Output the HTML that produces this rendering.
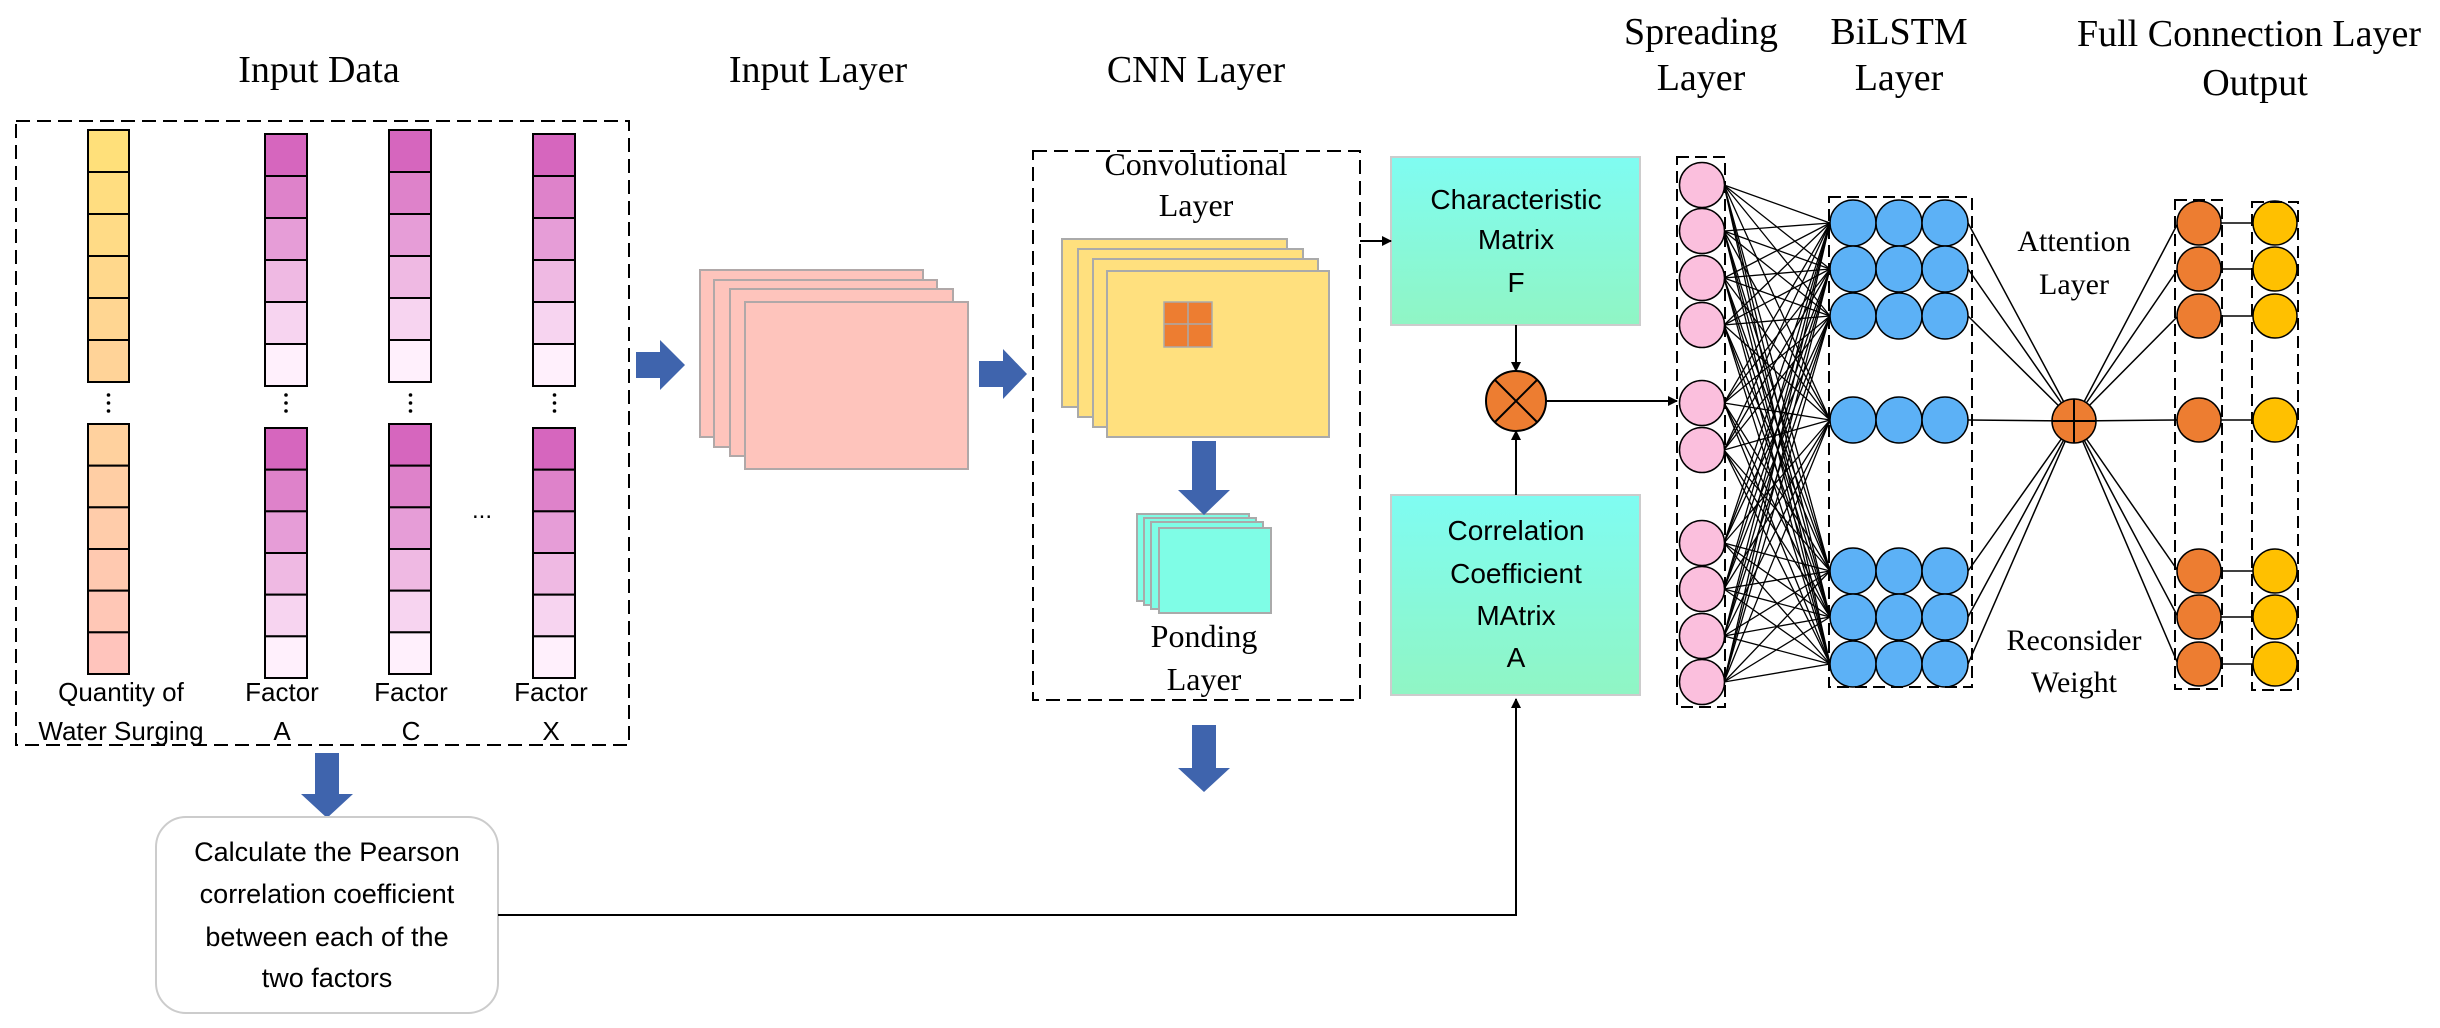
<!DOCTYPE html>
<html><head><meta charset="utf-8"><style>
html,body{margin:0;padding:0;background:#fff;}
svg{display:block;}
.t{font-family:"Liberation Serif",serif;fill:#000;}
.s{font-family:"Liberation Sans",sans-serif;fill:#000;}
</style></head><body>
<svg id="g" width="2440" height="1028" viewBox="0 0 2440 1028" xmlns="http://www.w3.org/2000/svg">
<defs>
<linearGradient id="cy" x1="0" y1="0" x2="0" y2="1"><stop offset="0" stop-color="#7ffcf2"/><stop offset="1" stop-color="#90f5c4"/></linearGradient>
<marker id="ah" markerWidth="10" markerHeight="10" refX="9" refY="5" orient="auto" markerUnits="userSpaceOnUse"><path d="M0,0 L10,5 L0,10 z" fill="#000"/></marker>
</defs>
<g id="dyn"></g>
<!-- headers -->
<g class="t" font-size="38" text-anchor="middle">
<text x="319" y="82">Input Data</text>
<text x="818" y="82">Input Layer</text>
<text x="1196" y="82">CNN Layer</text>
<text x="1701" y="44">Spreading</text>
<text x="1701" y="90">Layer</text>
<text x="1899" y="44">BiLSTM</text>
<text x="1899" y="90">Layer</text>
<text x="2249" y="46">Full Connection Layer</text>
<text x="2255" y="95">Output</text>
</g>
<!-- input data box -->
<rect x="16" y="121" width="613" height="624" fill="none" stroke="#000" stroke-width="2" stroke-dasharray="14,7"/>
<g class="s" font-size="26" text-anchor="middle">
<text x="121" y="701">Quantity of</text>
<text x="121" y="740">Water Surging</text>
<text x="282" y="701">Factor</text><text x="282" y="740">A</text>
<text x="411" y="701">Factor</text><text x="411" y="740">C</text>
<text x="551" y="701">Factor</text><text x="551" y="740">X</text>
<text x="482" y="518" font-size="24">...</text>
</g>
<!-- input layer -->
<g stroke="#b0a8a8" stroke-width="2" fill="#fec4bc">
<rect x="700" y="270" width="223" height="167"/>
<rect x="714" y="280" width="223" height="167"/>
<rect x="730" y="289" width="223" height="167"/>
<rect x="745" y="302" width="223" height="167"/>
</g>
<!-- CNN box -->
<rect x="1033" y="151" width="327" height="549" fill="none" stroke="#000" stroke-width="2" stroke-dasharray="14,7"/>
<rect x="1080" y="152" width="230" height="6" fill="#fff"/>
<g class="t" font-size="32" text-anchor="middle">
<text x="1196" y="175">Convolutional</text>
<text x="1196" y="216">Layer</text>
<text x="1204" y="647">Ponding</text>
<text x="1204" y="690">Layer</text>
</g>
<g stroke="#aaa" stroke-width="2" fill="#ffe07e">
<rect x="1062" y="239" width="225" height="168"/>
<rect x="1078" y="249" width="225" height="168"/>
<rect x="1093" y="259" width="225" height="168"/>
<rect x="1107" y="271" width="222" height="166"/>
</g>
<g stroke="#aaa" stroke-width="1.5" fill="#ed7d31">
<rect x="1164" y="302" width="48" height="45"/>
<line x1="1188" y1="302" x2="1188" y2="347"/><line x1="1164" y1="324" x2="1212" y2="324"/>
</g>
<g stroke="#aaa" stroke-width="2" fill="#7ffde6">
<rect x="1137" y="514" width="112" height="87"/>
<rect x="1144" y="518" width="112" height="87"/>
<rect x="1151" y="522" width="112" height="87"/>
<rect x="1159" y="528" width="112" height="85"/>
</g>
<!-- blue arrows -->
<g fill="#3f64ad">
<path d="M636,352 L660,352 L660,340 L685,365 L660,390 L660,378 L636,378 z"/>
<path d="M979,361 L1003,361 L1003,349 L1027,374 L1003,399 L1003,387 L979,387 z"/>
<path d="M1192,441 L1216,441 L1216,490 L1230,490 L1204,515 L1178,490 L1192,490 z"/>
<path d="M1192,725 L1216,725 L1216,768 L1230,768 L1204,792 L1178,768 L1192,768 z"/>
<path d="M315,753 L339,753 L339,794 L353,794 L327,818 L301,794 L315,794 z"/>
</g>
<!-- pearson box -->
<rect x="156" y="817" width="342" height="196" rx="30" fill="#fff" stroke="#ccc" stroke-width="2"/>
<g class="s" font-size="27" text-anchor="middle">
<text x="327" y="861">Calculate the Pearson</text>
<text x="327" y="903">correlation coefficient</text>
<text x="327" y="946">between each of the</text>
<text x="327" y="987">two factors</text>
</g>
<polyline points="498,915 1516,915 1516,699" fill="none" stroke="#000" stroke-width="2" marker-end="url(#ah)"/>
<!-- matrices -->
<rect x="1391" y="157" width="249" height="168" fill="url(#cy)" stroke="#ccc" stroke-width="2"/>
<rect x="1391" y="495" width="249" height="200" fill="url(#cy)" stroke="#ccc" stroke-width="2"/>
<g class="s" font-size="28" text-anchor="middle">
<text x="1516" y="209">Characteristic</text>
<text x="1516" y="249">Matrix</text>
<text x="1516" y="292">F</text>
<text x="1516" y="540">Correlation</text>
<text x="1516" y="583">Coefficient</text>
<text x="1516" y="625">MAtrix</text>
<text x="1516" y="667">A</text>
</g>
<g stroke="#000" stroke-width="2" fill="none">
<line x1="1360" y1="241" x2="1391" y2="241" marker-end="url(#ah)"/>
<line x1="1516" y1="325" x2="1516" y2="371" marker-end="url(#ah)"/>
<line x1="1516" y1="495" x2="1516" y2="431" marker-end="url(#ah)"/>
<line x1="1546" y1="401" x2="1677" y2="401" marker-end="url(#ah)"/>
</g>
<circle cx="1516" cy="401" r="30" fill="#ed7d31" stroke="#000" stroke-width="2"/>
<g stroke="#000" stroke-width="2"><line x1="1495" y1="380" x2="1537" y2="422"/><line x1="1537" y1="380" x2="1495" y2="422"/></g>
<!-- dashed boxes right -->
<g fill="none" stroke="#000" stroke-width="2" stroke-dasharray="12,6">
<rect x="1677" y="157" width="48" height="550"/>
<rect x="1829" y="197" width="143" height="490"/>
<rect x="2175" y="200" width="47" height="489"/>
<rect x="2252" y="202" width="46" height="488"/>
</g>
<g class="t" font-size="30" text-anchor="middle">
<text x="2074" y="251">Attention</text>
<text x="2074" y="294">Layer</text>
<text x="2074" y="650">Reconsider</text>
<text x="2074" y="692">Weight</text>
</g>
</svg>
<script>
(function(){
var NS="http://www.w3.org/2000/svg",g=document.getElementById('dyn'),top=document.getElementById('g');
function el(n,a,p){var e=document.createElementNS(NS,n);for(var k in a)e.setAttribute(k,a[k]);(p||g).appendChild(e);return e;}
function lerp(a,b,t){return Math.round(a+(b-a)*t);}
function col(c1,c2,t){return 'rgb('+lerp(c1[0],c2[0],t)+','+lerp(c1[1],c2[1],t)+','+lerp(c1[2],c2[2],t)+')';}
function column(x,w,y0,y1,c1,c2,tstart,tend){var h=(y1-y0)/6;for(var i=0;i<6;i++){var t=tstart+(tend-tstart)*i/5;el('rect',{x:x,y:y0+i*h,width:w,height:h,fill:col(c1,c2,t),stroke:'#000','stroke-width':2});}}
var Y1=[255,224,122],Y2=[255,196,188],M1=[214,102,190],M2=[255,240,252];
column(88,41,130,382,Y1,Y2,0,0.45);column(88,41,424,674,Y1,Y2,0.55,1);
[[265,134,386,428,678],[389,130,382,424,674],[533,134,386,428,678]].forEach(function(c){
column(c[0],42,c[1],c[2],M1,M2,0,1);column(c[0],42,c[3],c[4],M1,M2,0,1);});
// vertical dots
[108.5,286,410.5,554.5].forEach(function(x){[395,403,411].forEach(function(y){el('circle',{cx:x,cy:y,r:1.8,fill:'#000'});});});
var pinkY=[185,231,278,325,403,450,543,589,636,682];
var rowY=[223,269,316,420,571,617,664];
var bx=[1853,1899,1945];
var ln={stroke:'#000','stroke-width':1.3};
pinkY.forEach(function(py){rowY.forEach(function(by){el('line',{x1:1724,y1:py,x2:1830,y2:by,stroke:'#000','stroke-width':1.3});});});
rowY.forEach(function(by){el('line',{x1:1968,y1:by,x2:2074,y2:421,stroke:'#000','stroke-width':1.5});
el('line',{x1:2074,y1:421,x2:2178,y2:by,stroke:'#000','stroke-width':1.5});
el('line',{x1:2199,y1:by,x2:2274,y2:by,stroke:'#000','stroke-width':1.5});});
pinkY.forEach(function(py){el('circle',{cx:1702,cy:py,r:22.5,fill:'#fbbfdd',stroke:'#000','stroke-width':1.5});});
rowY.forEach(function(by){bx.forEach(function(x){el('circle',{cx:x,cy:by,r:23,fill:'#5cb1f6',stroke:'#000','stroke-width':1.5});});
el('circle',{cx:2199,cy:by,r:22,fill:'#ed7d31',stroke:'#000','stroke-width':1.5});
el('circle',{cx:2275,cy:by,r:22,fill:'#ffc000',stroke:'#000','stroke-width':1.5});});
el('circle',{cx:2074,cy:421,r:22,fill:'#ed7d31',stroke:'#000','stroke-width':1.5});
el('line',{x1:2074,y1:399,x2:2074,y2:443,stroke:'#000','stroke-width':2});
el('line',{x1:2052,y1:421,x2:2096,y2:421,stroke:'#000','stroke-width':2});
})();
</script>
</body></html>
